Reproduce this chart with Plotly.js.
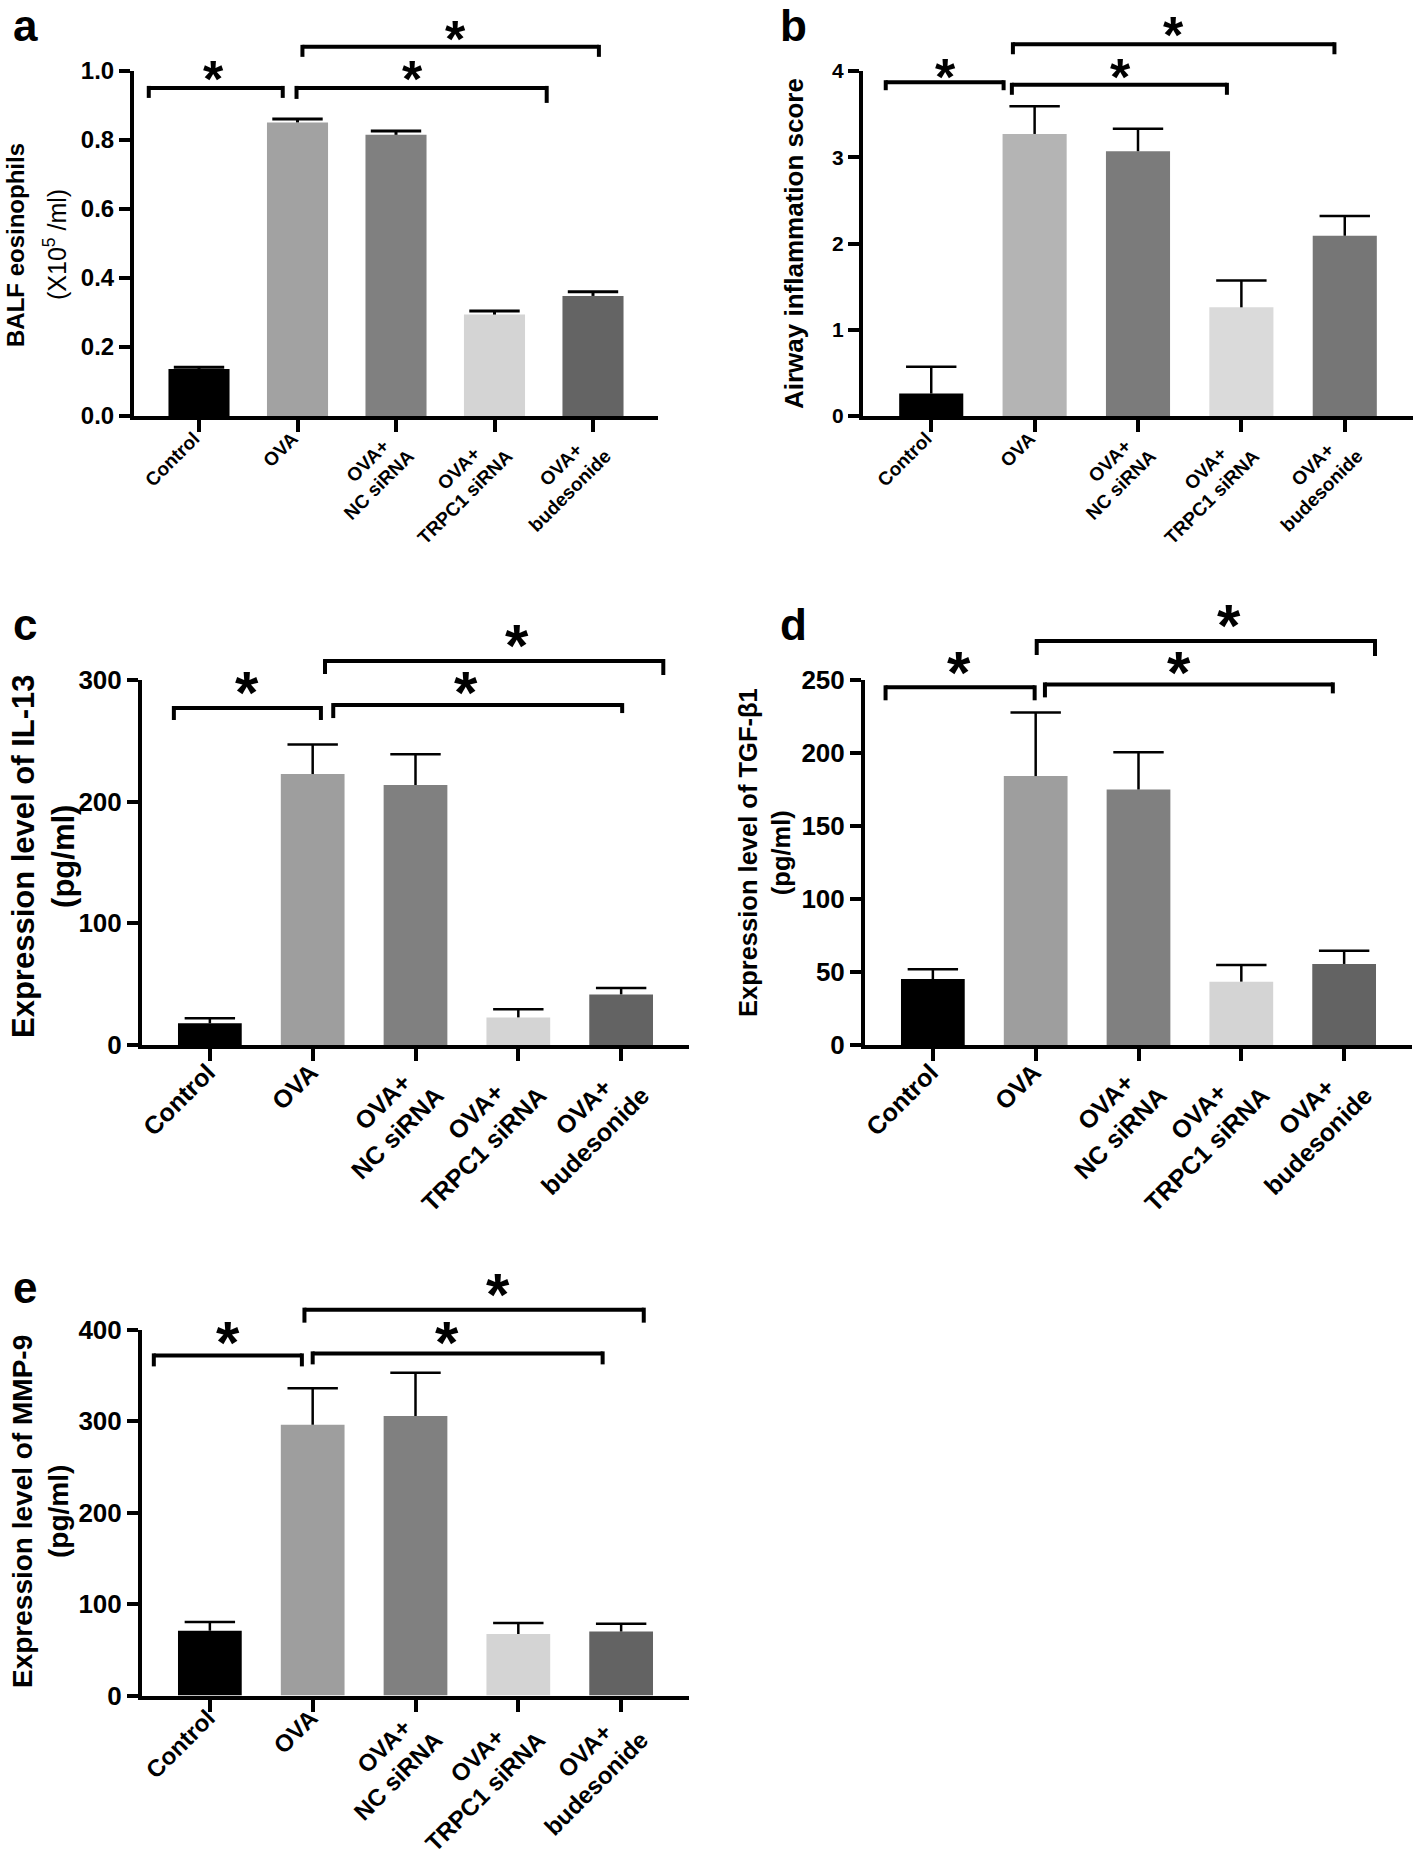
<!DOCTYPE html>
<html>
<head>
<meta charset="utf-8">
<script src="https://cdn.plot.ly/plotly-3.0.1.min.js"></script>
<style>
html, body { margin: 0; padding: 0; background: #ffffff; }
#chart { width: 1418px; height: 1856px; }
</style>
</head>
<body>
<div id="chart"></div>
<script>
// ---------------- data ----------------
const categories = ["Control", "OVA", "OVA+ NC siRNA", "OVA+ TRPC1 siRNA", "OVA+ budesonide"];
const NB = "\u00a0";
const tickLabels = ["Control", "OVA",
  "OVA+" + NB.repeat(2) + "<br>NC siRNA",
  "OVA+" + NB.repeat(4) + "<br>TRPC1 siRNA",
  "OVA+" + NB.repeat(3) + "<br>budesonide"];

const eosinophilsMean = [0.136, 0.851, 0.815, 0.294, 0.348];
const eosinophilsSEM  = [0.005, 0.010, 0.011, 0.010, 0.012];

const inflammationMean = [0.26, 3.27, 3.07, 1.26, 2.09];
const inflammationSEM  = [0.31, 0.32, 0.26, 0.31, 0.23];

const il13Mean = [17.8, 222.7, 213.7, 22.7, 41.6];
const il13SEM  = [4.1, 24.3, 25.3, 6.6, 5.2];

const tgfMean = [45.2, 184.2, 175.0, 43.4, 55.5];
const tgfSEM  = [6.6, 43.6, 25.5, 11.4, 9.1];

const mmp9Mean = [70.8, 296.0, 305.6, 67.1, 70.0];
const mmp9SEM  = [9.5, 40.0, 47.2, 12.1, 8.4];

const yTicksA = [0, 0.2, 0.4, 0.6, 0.8, 1.0];
const yTicksB = [0, 1, 2, 3, 4];
const yTicksC = [0, 100, 200, 300];
const yTicksD = [0, 50, 100, 150, 200, 250];
const yTicksE = [0, 100, 200, 300, 400];

const significance = ["*", "*", "*"];

// ---------------- layout config ----------------
const W = 1418, H = 1856;
const FONT = "Arial, 'Liberation Sans', Helvetica, sans-serif";
const greysA = ["#000000", "#a2a2a2", "#808080", "#d4d4d4", "#646464"];
const greysB = ["#000000", "#b4b4b4", "#7b7b7b", "#dadada", "#767676"];
const greysC = ["#000000", "#9e9e9e", "#808080", "#d4d4d4", "#636363"];

const panels = [
  { letter: "a", mean: eosinophilsMean, sem: eosinophilsSEM, ticks: yTicksA, fmt: ".1f",
    box: [134, 658, 71, 416], colors: greysA, yTick: 24, xTick: 19, xStand: -12, xShift: -5, errT: 3, starSize: 52,
    letterAt: [25, 41],
    titles: [
      { text: "<b>BALF eosinophils</b>", x: 15, y: 245, size: 24 },
      { text: "(X10<sup>5</sup> /ml)", x: 55, y: 245, size: 25 }
    ],
    brackets: [[-0.51, 0.85, 0.951, 10, 10], [0.99, 3.53, 0.951, 11, 15], [1.05, 4.06, 1.07, 10, 10]],
    stars: [[0.15, 0.997], [2.17, 0.997], [2.6, 1.113]] },
  { letter: "b", mean: inflammationMean, sem: inflammationSEM, ticks: yTicksB, fmt: "d",
    box: [863, 1413, 71, 416], colors: greysB, yTick: 21, xTick: 19, xStand: -12, xShift: -5, errT: 2.5, starSize: 52,
    letterAt: [793, 41],
    titles: [{ text: "<b>Airway inflammation score</b>", x: 794, y: 244, size: 26 }],
    brackets: [[-0.44, 0.70, 3.87, 8, 8], [0.78, 2.86, 3.84, 10, 10], [0.79, 3.90, 4.31, 10, 10]],
    stars: [[0.14, 4.01], [1.83, 4.01], [2.34, 4.49]] },
  { letter: "c", mean: il13Mean, sem: il13SEM, ticks: yTicksC, fmt: "d",
    box: [142, 689, 680, 1045], colors: greysC, yTick: 26, xTick: 25, xStand: -13, xShift: -2, errT: 2.5, starSize: 60,
    letterAt: [25, 640],
    titles: [{ text: "<b>Expression level of IL-13<br>(pg/ml)</b>", x: 43, y: 856, size: 31 }],
    brackets: [[-0.35, 1.08, 277, 12, 12], [1.2, 4.01, 279.4, 13, 8], [1.12, 4.41, 315.6, 13, 14]],
    stars: [[0.36, 295.9], [2.49, 295.9], [2.99, 334.5]] },
  { letter: "d", mean: tgfMean, sem: tgfSEM, ticks: yTicksD, fmt: "d",
    box: [865, 1412, 680, 1045], colors: greysC, yTick: 26, xTick: 25, xStand: -13, xShift: -2, errT: 2.5, starSize: 60,
    letterAt: [793, 640],
    titles: [{ text: "<b>Expression level of TGF-β1<br>(pg/ml)</b>", x: 764, y: 853, size: 25.5 }],
    brackets: [[-0.46, 0.99, 245, 13, 13], [1.09, 3.89, 247, 13, 9], [1.01, 4.30, 276.7, 14, 15]],
    stars: [[0.25, 260.3], [2.39, 260.3], [2.88, 292.5]] },
  { letter: "e", mean: mmp9Mean, sem: mmp9SEM, ticks: yTicksE, fmt: "d",
    box: [142, 689, 1329.6, 1695.5], colors: greysC, yTick: 26, xTick: 24, xStand: -17, xShift: -2, errT: 2.5, starSize: 60,
    letterAt: [25, 1303],
    titles: [{ text: "<b>Expression level of MMP-9<br>(pg/ml)</b>", x: 40, y: 1512, size: 28 }],
    brackets: [[-0.545, 0.895, 371.8, 11, 11], [1.0, 3.82, 374, 11, 11], [0.92, 4.22, 421.8, 13, 13]],
    stars: [[0.175, 394.4], [2.31, 394.4], [2.8, 447]] }
];

// ---------------- build ----------------
const traces = [];
const layout = {
  width: W, height: H,
  margin: { l: 0, r: 0, t: 0, b: 0, pad: 0 },
  paper_bgcolor: "#ffffff", plot_bgcolor: "#ffffff",
  showlegend: false,
  font: { family: FONT, color: "#000000" },
  annotations: [], shapes: []
};

panels.forEach((p, i) => {
  const n = i === 0 ? "" : String(i + 1);
  const xId = "x" + n, yId = "y" + n;
  const [bx0, bx1, by0, by1] = p.box;
  const yDom = [1 - by1 / H, 1 - by0 / H];
  const ymax = p.ticks[p.ticks.length - 1];
  const toPaperY = v => yDom[0] + (v / ymax) * (yDom[1] - yDom[0]);

  traces.push({
    type: "bar", x: categories, y: p.mean, xaxis: xId, yaxis: yId,
    width: 0.62, marker: { color: p.colors, line: { width: 0 } },
    error_y: { type: "data", symmetric: false, array: p.sem, arrayminus: p.sem.map(() => 0),
               width: 0, thickness: p.errT, color: "#000000" },
    hoverinfo: "skip"
  });
  traces.push({
    type: "scatter", mode: "markers", x: categories, y: p.mean.map((m, k) => m + p.sem[k]),
    xaxis: xId, yaxis: yId, cliponaxis: false,
    marker: { symbol: "line-ew", size: 36, color: "#000000", line: { width: p.errT, color: "#000000" } },
    hoverinfo: "skip"
  });

  layout["xaxis" + n] = {
    type: "category", domain: [bx0 / W, bx1 / W], range: [-0.66, 4.66], anchor: yId,
    tickmode: "array", tickvals: categories, ticktext: tickLabels,
    showline: true, linewidth: 4, linecolor: "#000000", mirror: false,
    ticks: "outside", ticklen: 12, tickwidth: 4, tickcolor: "#000000",
    tickangle: -45, ticklabelstandoff: p.xStand, ticklabelshift: p.xShift,
    tickfont: { family: FONT, size: p.xTick, color: "#000000", weight: "bold" },
    showgrid: false, zeroline: false, automargin: false, fixedrange: true
  };
  layout["yaxis" + n] = {
    domain: yDom, range: [0, ymax], anchor: xId,
    tickmode: "array", tickvals: p.ticks, tickformat: p.fmt,
    showline: true, linewidth: 4, linecolor: "#000000",
    ticks: "outside", ticklen: 11, tickwidth: 4, tickcolor: "#000000",
    tickfont: { family: FONT, size: p.yTick, color: "#000000", weight: "bold" },
    showgrid: false, zeroline: false, automargin: false, fixedrange: true
  };

  // panel letter
  layout.annotations.push({
    text: "<b>" + p.letter + "</b>", xref: "paper", yref: "paper",
    x: p.letterAt[0] / W, y: 1 - (p.letterAt[1] - 0.35 * 44) / H,
    xanchor: "center", yanchor: "middle", showarrow: false,
    font: { family: FONT, size: 44, color: "#000000" }
  });
  // y-axis titles
  p.titles.forEach(t => {
    layout.annotations.push({
      text: t.text, xref: "paper", yref: "paper", x: t.x / W, y: 1 - t.y / H,
      xanchor: "center", yanchor: "middle", textangle: -90, showarrow: false,
      font: { family: FONT, size: t.size, color: "#000000" }
    });
  });
  // significance brackets
  p.brackets.forEach(b => {
    const [x0, x1, v, d0, d1] = b;
    const yt = toPaperY(v);
    const ln = { color: "#000000", width: 4 };
    layout.shapes.push({ type: "line", xref: xId, yref: "paper", x0: x0, x1: x1, y0: yt, y1: yt, line: ln });
    layout.shapes.push({ type: "line", xref: xId, yref: "paper", x0: x0, x1: x0, y0: yt + 2 / H, y1: yt - d0 / H, line: ln });
    layout.shapes.push({ type: "line", xref: xId, yref: "paper", x0: x1, x1: x1, y0: yt + 2 / H, y1: yt - d1 / H, line: ln });
  });
  p.stars.forEach((s, k) => {
    layout.annotations.push({
      text: "<b>" + significance[k] + "</b>", xref: xId, yref: "paper",
      x: s[0], y: toPaperY(s[1]), xanchor: "center", yanchor: "middle",
      yshift: -0.13 * p.starSize, showarrow: false,
      font: { family: FONT, size: p.starSize, color: "#000000" }
    });
  });
});

Plotly.newPlot("chart", traces, layout, { staticPlot: true, displayModeBar: false });
</script>
</body>
</html>
